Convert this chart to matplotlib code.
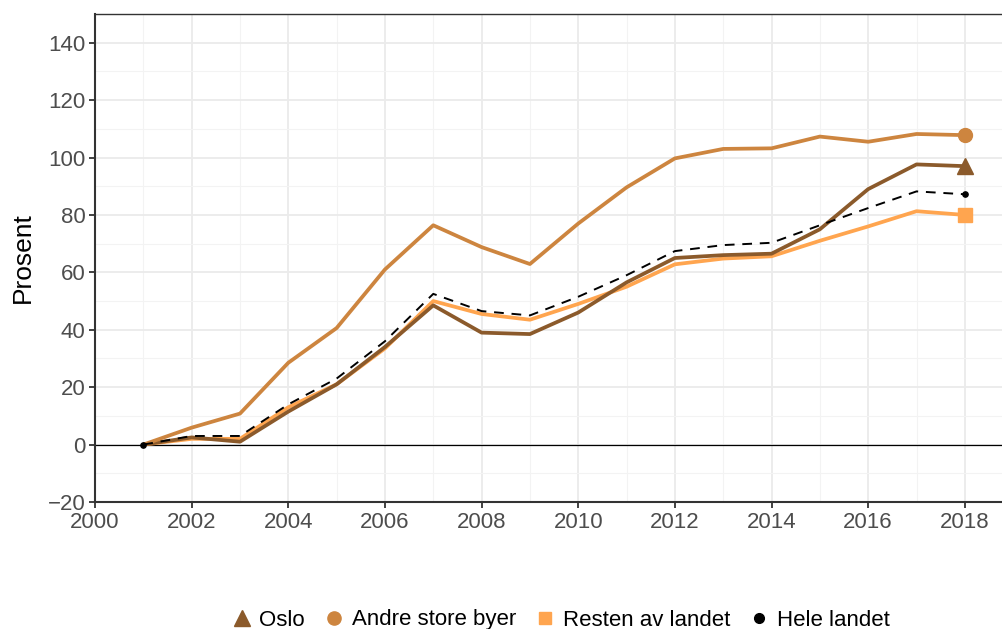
import numpy as np
import matplotlib
matplotlib.use('Agg')
import matplotlib.pyplot as plt
from matplotlib.lines import Line2D
from matplotlib.ticker import MultipleLocator

plt.rcParams['font.family'] = ['Liberation Sans', 'DejaVu Sans']

years = list(range(2001, 2019))
oslo = [0, 2.5, 1, 11.5, 21, 34, 48.5, 39, 38.5, 46, 56.5, 65, 66, 66.5, 75, 89, 97.6, 97]
andre = [0, 5.9, 10.8, 28.5, 40.6, 61, 76.4, 68.8, 62.9, 77, 89.6, 99.7, 103, 103.2, 107.3, 105.5, 108.2, 107.8]
resten = [0, 2, 2, 13, 21, 33.5, 50, 45.5, 43.5, 49, 55, 62.8, 64.8, 65.6, 71, 76, 81.3, 80]
hele = [0, 3, 3, 14, 23, 36, 52.5, 46.5, 45, 51.5, 59, 67.4, 69.5, 70.3, 76.4, 82.4, 88.2, 87.2]

labels = ['Oslo', 'Andre store byer', 'Resten av landet', 'Hele landet']
colors = ['#8B5A2B', '#CD853F', '#FFA54F', '#000000']
markers = ['^', 'o', 's', 'o']
yticks = [-20, 0, 20, 40, 60, 80, 100, 120, 140]

W, H = 1003, 629
fig = plt.figure(figsize=(W / 100, H / 100), dpi=100)
ax = fig.add_axes([95 / W, (H - 502) / H, (1003 - 95) / W, (502 - 14) / H])

ax.set_xlim(2000, 2018.79)
ax.set_ylim(-20, 150)
ax.xaxis.set_major_locator(MultipleLocator(2))
ax.xaxis.set_minor_locator(MultipleLocator(1))
ax.yaxis.set_minor_locator(MultipleLocator(10))
ax.set_yticks(yticks)
ax.grid(which='major', color='#EBEBEB', linewidth=1.3, zorder=0)
ax.grid(which='minor', color='#F3F3F3', linewidth=0.8, zorder=0)
ax.set_axisbelow(True)
ax.axhline(0, color='black', linewidth=0.9, zorder=1)

ax.plot(years, resten, color=colors[2], linewidth=2.7, zorder=2, solid_capstyle='butt')
ax.plot(years, oslo, color=colors[0], linewidth=2.7, zorder=3, solid_capstyle='butt')
ax.plot(years, andre, color=colors[1], linewidth=2.7, zorder=3, solid_capstyle='butt')
ax.plot(years, hele, color='black', linewidth=1.4, linestyle=(0, (5, 4)), zorder=4)

ax.plot(years[-1], oslo[-1], marker='^', color=colors[0], markersize=11.5, zorder=5, linestyle='none')
ax.plot(years[-1], andre[-1], marker='o', color=colors[1], markersize=10, zorder=5, linestyle='none')
ax.plot(years[-1], resten[-1], marker='s', color=colors[2], markersize=9.5, zorder=5, linestyle='none')
ax.plot([years[0], years[-1]], [hele[0], hele[-1]], marker='o', color='black', markersize=3.8,
        zorder=6, linestyle='none')

for side in ['left', 'bottom']:
    ax.spines[side].set_color('#333333')
    ax.spines[side].set_linewidth(1.5)
ax.spines['top'].set_color('#333333')
ax.spines['top'].set_linewidth(1.0)
ax.spines['right'].set_visible(False)

ax.tick_params(which='major', length=4, width=1.3, color='#333333', labelcolor='#4D4D4D',
               labelsize=16, pad=3)
ax.tick_params(which='minor', length=0)
ax.set_yticklabels([f'{v}' if v >= 0 else f'\u2212{-v}' for v in yticks])
ax.set_ylabel('Prosent', fontsize=19, color='black')
ax.yaxis.set_label_coords(-0.066, 0.5)

handles = [Line2D([], [], marker=m, color=c, linestyle='none', markersize=s)
           for m, c, s in zip(markers, colors, [11, 9.5, 9, 7])]
fig.legend(handles, labels, loc='center', bbox_to_anchor=(560 / W, 1 - 620 / H), ncol=4,
           frameon=False, fontsize=16, handletextpad=0.3, columnspacing=0.8,
           handlelength=1.0, borderaxespad=0)

fig.savefig('out.png', dpi=100)
